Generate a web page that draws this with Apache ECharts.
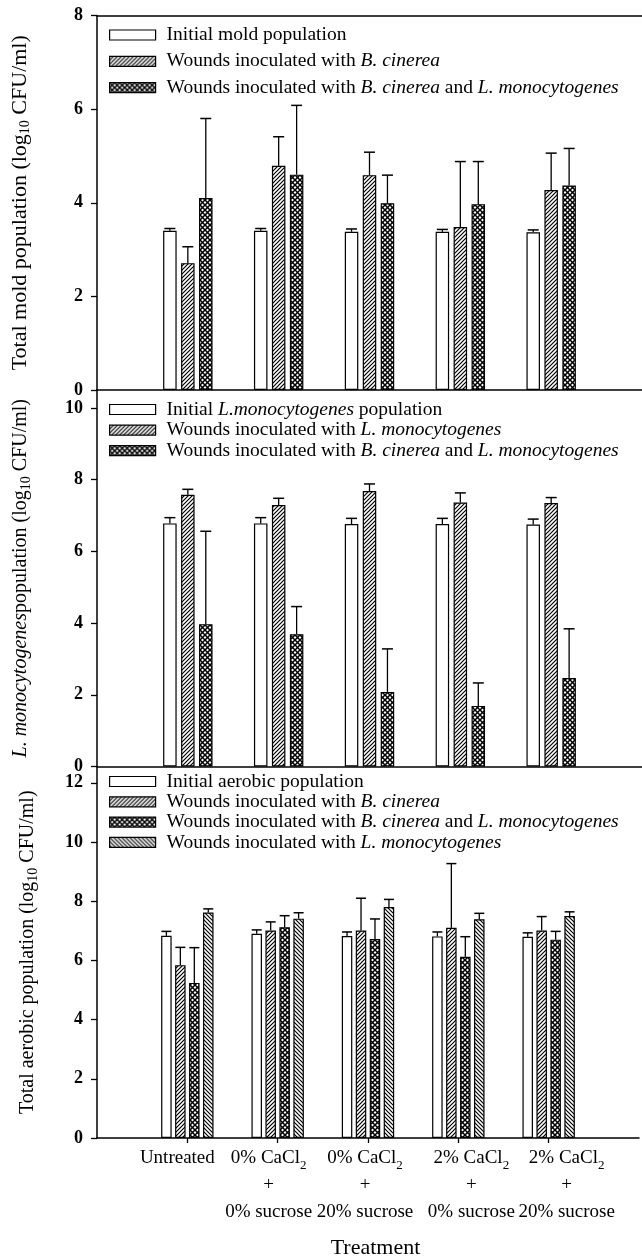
<!DOCTYPE html>
<html><head><meta charset="utf-8">
<script src="https://cdn.jsdelivr.net/npm/echarts@6/dist/echarts.min.js"></script>
<style>html,body{margin:0;padding:0;background:#fff}#c{width:642px;height:1260px}</style>
</head><body><div id="c"></div>
<script>
// ---------- data ----------
const categories = ['Untreated', '0% CaCl2 + 0% sucrose', '0% CaCl2 + 20% sucrose', '2% CaCl2 + 0% sucrose', '2% CaCl2 + 20% sucrose'];
const xLabelLines = [['Untreated'], ['0% CaCl_2', '+', '0% sucrose'], ['0% CaCl_2', '+', '20% sucrose'], ['2% CaCl_2', '+', '0% sucrose'], ['2% CaCl_2', '+', '20% sucrose']];
const moldTicks = [0, 2, 4, 6, 8];
const listeriaTicks = [0, 2, 4, 6, 8, 10];
const aerobicTicks = [0, 2, 4, 6, 8, 10, 12];

// Panel 1: total mold population
const moldInitial = [3.40, 3.40, 3.38, 3.38, 3.37];
const moldInitialErr = [0.05, 0.05, 0.06, 0.05, 0.05];
const moldBc = [2.71, 4.79, 4.59, 3.48, 4.27];
const moldBcErr = [0.35, 0.62, 0.49, 1.40, 0.79];
const moldBL = [4.10, 4.60, 3.99, 3.97, 4.37];
const moldBLErr = [1.70, 1.48, 0.60, 0.91, 0.79];

// Panel 2: L. monocytogenes population
const lmInitial = [6.78, 6.78, 6.76, 6.76, 6.75];
const lmInitialErr = [0.16, 0.16, 0.16, 0.16, 0.15];
const lmL = [7.58, 7.29, 7.68, 7.36, 7.35];
const lmLErr = [0.15, 0.19, 0.20, 0.27, 0.15];
const lmBL = [3.97, 3.69, 2.08, 1.69, 2.47];
const lmBLErr = [2.59, 0.77, 1.20, 0.64, 1.37];

// Panel 3: total aerobic population
const aeInitial = [6.83, 6.90, 6.82, 6.81, 6.80];
const aeInitialErr = [0.15, 0.13, 0.14, 0.15, 0.13];
const aeBc = [5.84, 7.01, 7.01, 7.10, 7.01];
const aeBcErr = [0.60, 0.29, 1.09, 2.17, 0.47];
const aeBL = [5.24, 7.12, 6.72, 6.12, 6.70];
const aeBLErr = [1.19, 0.39, 0.68, 0.68, 0.28];
const aeL = [7.62, 7.41, 7.80, 7.39, 7.50];
const aeLErr = [0.12, 0.20, 0.26, 0.20, 0.14];

// ---------- style ----------
const FONT = "'Liberation Serif','Times New Roman',serif";
const labelShift = [-10, -9, -3, 13, 18];

function pattern(kind) {
  const s = kind === 'cross' ? 5 : 4;
  const c = document.createElement('canvas');
  c.width = s; c.height = s;
  const g = c.getContext('2d');
  g.fillStyle = '#fff'; g.fillRect(0, 0, s, s);
  g.strokeStyle = '#000';
  g.lineWidth = 1.2;
  const fwd = () => { g.beginPath(); g.moveTo(-1, s + 1); g.lineTo(s + 1, -1); g.moveTo(-1, 1); g.lineTo(1, -1); g.moveTo(s - 1, s + 1); g.lineTo(s + 1, s - 1); g.stroke(); };
  const back = () => { g.beginPath(); g.moveTo(-1, -1); g.lineTo(s + 1, s + 1); g.moveTo(s - 1, -1); g.lineTo(s + 1, 1); g.moveTo(-1, s - 1); g.lineTo(1, s + 1); g.stroke(); };
  if (kind === 'fwd') fwd();
  else if (kind === 'back') back();
  else { g.lineWidth = 1.5; fwd(); back(); }
  return { image: c, repeat: 'repeat' };
}
const FILL = { white: '#ffffff', fwd: pattern('fwd'), back: pattern('back'), cross: pattern('cross') };

const panels = [
  {
    top: 15.5, height: 374.5, max: 8, ticks: moldTicks, bw: 13.5, capW: 11,
    yName: 'Total mold population (log{sub|10} CFU/ml)', nameSize: 22, nameGap: 65,
    legendTop: 20, legendGap: 6.3,
    items: [
      { label: 'Initial mold population', fill: 'white', v: moldInitial, e: moldInitialErr },
      { label: 'Wounds inoculated with {i|B. cinerea}', fill: 'fwd', v: moldBc, e: moldBcErr },
      { label: 'Wounds inoculated with {i|B. cinerea} and {i|L. monocytogenes}', fill: 'cross', v: moldBL, e: moldBLErr }
    ]
  },
  {
    top: 390, height: 376.5, max: 10.5, ticks: listeriaTicks, bw: 13.5, capW: 11,
    yName: '{i|L. monocytogenes}population (log{sub|10} CFU/ml)', nameSize: 20, nameGap: 64,
    legendTop: 394.5, legendGap: 0.6,
    items: [
      { label: 'Initial {i|L.monocytogenes} population', fill: 'white', v: lmInitial, e: lmInitialErr },
      { label: 'Wounds inoculated with {i|L. monocytogenes}', fill: 'fwd', v: lmL, e: lmLErr },
      { label: 'Wounds inoculated with {i|B. cinerea} and {i|L. monocytogenes}', fill: 'cross', v: lmBL, e: lmBLErr }
    ]
  },
  {
    top: 766.5, height: 376.8, max: 12.55, ticks: aerobicTicks, bw: 10.5, capW: 10,
    yName: 'Total aerobic population (log{sub|10} CFU/ml)', nameSize: 20, nameGap: 57,
    legendTop: 766.5, legendGap: 0.3,
    items: [
      { label: 'Initial aerobic population', fill: 'white', v: aeInitial, e: aeInitialErr },
      { label: 'Wounds inoculated with {i|B. cinerea}', fill: 'fwd', v: aeBc, e: aeBcErr },
      { label: 'Wounds inoculated with {i|B. cinerea} and {i|L. monocytogenes}', fill: 'cross', v: aeBL, e: aeBLErr },
      { label: 'Wounds inoculated with {i|L. monocytogenes}', fill: 'back', v: aeL, e: aeLErr }
    ]
  }
];

const xCats = ['padL'].concat(categories, ['padR']);
const labelMap = {};
const grids = [], xAxes = [], yAxes = [], legends = [], series = [];

const xRich = { sub: { fontFamily: FONT, fontSize: 13, lineHeight: 13, verticalAlign: 'bottom', color: '#000' } };
labelShift.forEach((s, i) => { xRich['sp' + i] = { width: Math.abs(s) * 2, fontSize: 19, lineHeight: 27, fontFamily: FONT }; });
function xLabel(i) {
  const s = labelShift[i];
  return xLabelLines[i].map(line => {
    const c = line.replace('_2', '{sub|2}');
    if (s < 0) return c + '{sp' + i + '| }';
    if (s > 0) return '{sp' + i + '| }' + c;
    return c;
  }).join('\n');
}

panels.forEach((p, pi) => {
  grids.push({ left: 97, right: 0, top: p.top, height: p.height });
  const isBottom = pi === panels.length - 1;
  xAxes.push({
    gridIndex: pi, type: 'category', data: xCats, boundaryGap: false,
    axisLine: { show: true, lineStyle: { color: '#000', width: 1.5 } },
    axisTick: { show: isBottom, length: 5, interval: (i) => i >= 1 && i <= 5, lineStyle: { color: '#000', width: 1.3 } },
    axisLabel: {
      show: isBottom, interval: 0, margin: 7, fontFamily: FONT, fontSize: 19, lineHeight: 27, color: '#000',
      formatter: (val, idx) => (idx >= 1 && idx <= 5) ? xLabel(idx - 1) : '', rich: xRich
    },
    splitLine: { show: false },
    name: isBottom ? 'Treatment' : '', nameLocation: 'middle', nameGap: 99,
    nameTextStyle: { fontFamily: FONT, fontSize: 22, color: '#000', padding: [0, 0, 0, 15] }
  });
  yAxes.push({
    gridIndex: pi, type: 'value', min: 0, max: p.max, interval: 2,
    axisLine: { show: true, lineStyle: { color: '#000', width: 1.5 } },
    axisTick: { show: true, length: 6, customValues: p.ticks, lineStyle: { color: '#000', width: 1.3 } },
    axisLabel: { customValues: p.ticks, margin: 14, fontFamily: FONT, fontSize: 18, fontWeight: 'bold', color: '#000' },
    splitLine: { show: false },
    name: p.yName, nameLocation: 'middle', nameGap: p.nameGap,
    nameTextStyle: {
      fontFamily: FONT, fontSize: p.nameSize, lineHeight: 24, color: '#000',
      rich: {
        sub: { fontFamily: FONT, fontSize: 14, lineHeight: 14, verticalAlign: 'bottom', color: '#000' },
        i: { fontFamily: FONT, fontStyle: 'italic', fontSize: p.nameSize, lineHeight: 24, color: '#000' }
      }
    }
  });
  const n = p.items.length;
  const gapPx = p.bw * 0.33;
  const names = [];
  p.items.forEach((it, k) => {
    const id = 'p' + pi + 's' + k;
    names.push(id);
    labelMap[id] = it.label;
    series.push({
      type: 'bar', name: id, xAxisIndex: pi, yAxisIndex: pi,
      barWidth: p.bw, barGap: '33%',
      data: it.v.map((v, i) => [categories[i], v]),
      itemStyle: { color: FILL[it.fill], borderColor: '#000', borderWidth: 1.2 },
      silent: true
    });
    series.push({
      type: 'custom', name: id + 'err', xAxisIndex: pi, yAxisIndex: pi, z: 5, silent: true,
      data: it.v.map((v, i) => [categories[i], v, v + it.e[i]]),
      renderItem: (params, api) => {
        const x = api.value(0);
        const base = api.coord([x, api.value(1)]);
        const top = api.coord([x, api.value(2)]);
        const cx = base[0] + (k - (n - 1) / 2) * (p.bw + gapPx);
        const h = p.capW / 2;
        return {
          type: 'group', children: [
            { type: 'line', shape: { x1: cx, y1: base[1], x2: cx, y2: top[1] }, style: { stroke: '#000', lineWidth: 1.3 } },
            { type: 'line', shape: { x1: cx - h, y1: top[1], x2: cx + h, y2: top[1] }, style: { stroke: '#000', lineWidth: 1.5 } }
          ]
        };
      }
    });
  });
  legends.push({
    orient: 'vertical', left: 104, top: p.legendTop, itemWidth: 46, itemHeight: 10, itemGap: p.legendGap,
    icon: 'rect', selectedMode: false, data: names,
    formatter: (nm) => labelMap[nm],
    itemStyle: { borderColor: '#000', borderWidth: 1.2 },
    textStyle: {
      fontFamily: FONT, fontSize: 19.5, lineHeight: 19.5, color: '#000', padding: [0, 0, 0, 6],
      rich: { i: { fontFamily: FONT, fontStyle: 'italic', fontSize: 19.5, lineHeight: 19.5, color: '#000' } }
    }
  });
});

// top border line of the upper panel
xAxes.push({
  gridIndex: 0, type: 'category', position: 'top', data: xCats, boundaryGap: false,
  axisLine: { show: true, onZero: false, lineStyle: { color: '#000', width: 1.5 } },
  axisTick: { show: false }, axisLabel: { show: false }, splitLine: { show: false }
});

const chart = echarts.init(document.getElementById('c'), null, { renderer: 'canvas' });
chart.setOption({
  animation: false,
  backgroundColor: '#fff',
  grid: grids, xAxis: xAxes, yAxis: yAxes, legend: legends, series: series
});
</script></body></html>
